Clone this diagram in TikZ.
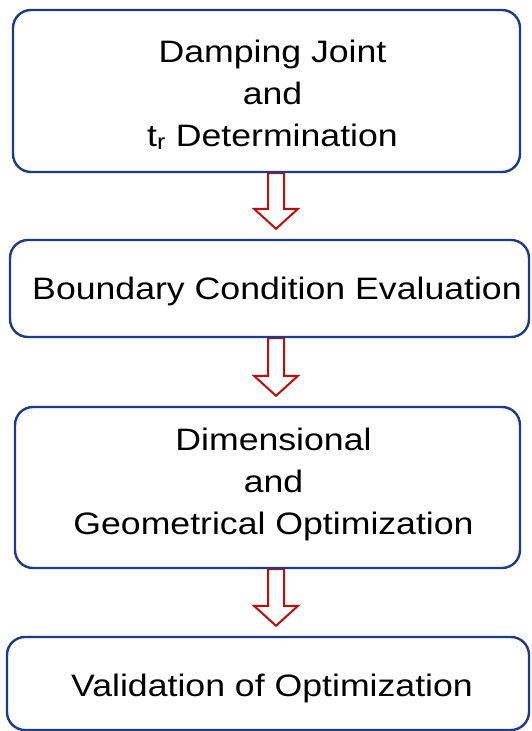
\documentclass[tikz,border=0pt]{standalone}
\usepackage{fontspec}
\setmainfont{Liberation Sans}
\usepackage{graphicx}
\usetikzlibrary{calc,backgrounds}
\definecolor{boxblue}{RGB}{30,58,138}
\definecolor{arrred}{RGB}{196,10,10}
\newcommand{\hs}[2][0pt]{\hspace*{#1}\scalebox{1.15}[1]{#2}}
\tikzset{
  flowbox/.style={draw=boxblue, line width=2.4pt, rounded corners=18pt,
    inner sep=0pt, align=center, font=\fontsize{31}{42}\selectfont},
  blockarr/.style={draw=arrred, line width=2pt, fill=white, line join=miter}
}
\begin{document}
\begin{tikzpicture}[x=1pt,y=-1pt]
\useasboundingbox (0,0) rectangle (531,731);
\node[flowbox, minimum width=507pt, minimum height=162pt] (b1) at (266.5,91)
  {\rule{0pt}{30pt}\hs[12pt]{Damping Joint}\\\hs[12pt]{and}\\\hs[12pt]{t\textsubscript{r} Determination}};
\node[flowbox, minimum width=519pt, minimum height=97pt, text height=24pt, text depth=3pt] (b2) at (269.5,288.5)
  {\hs[15pt]{Boundary Condition Evaluation}};
\node[flowbox, minimum width=505pt, minimum height=161pt] (b3) at (267.5,487.5)
  {\hs[12pt]{Dimensional}\\\hs[12pt]{and}\\\hs[12pt]{Geometrical Optimization}\rule[-12.5pt]{0pt}{0pt}};
\node[flowbox, minimum width=522pt, minimum height=93pt, text height=27pt, text depth=2pt] (b4) at (268,683.5)
  {\hs[8pt]{Validation of Optimization}};
\coordinate (ax) at (276,0);
\begin{scope}[on background layer]
\foreach \a/\b in {b1/b2,b2/b3,b3/b4}{
  \draw[blockarr] ($(\a.south -| ax)+(-8,0)$) -- ($(\b.north -| ax)+(-8,-30)$)
    -- ($(\b.north -| ax)+(-22,-30)$) -- ($(\b.north -| ax)+(0,-10)$)
    -- ($(\b.north -| ax)+(22,-30)$) -- ($(\b.north -| ax)+(8,-30)$)
    -- ($(\a.south -| ax)+(8,0)$) -- cycle;
}
\end{scope}
\end{tikzpicture}
\end{document}
